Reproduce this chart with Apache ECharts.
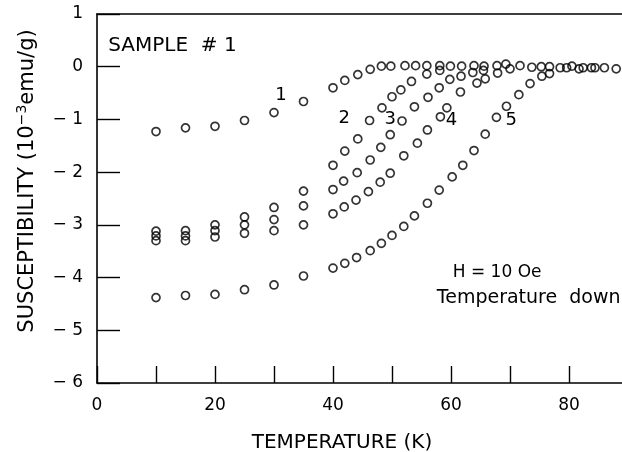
<!DOCTYPE html>
<html>
<head>
<meta charset="utf-8">
<script src="https://cdn.jsdelivr.net/npm/echarts@6.0.0/dist/echarts.min.js"></script>
<style>
html,body{margin:0;padding:0;background:#fff;}
#chart{width:622px;height:452px;}
</style>
</head>
<body>
<div id="chart"></div>
<script>
// Temperature (K) and susceptibility (10^-3 emu/g) for curves 1-5
var T1 = [10,15,20,25,30,35,40,42,44.2,46.3,48.2,49.8,52.2,54,55.9,58.1];
var X1 = [-1.23,-1.16,-1.13,-1.02,-0.87,-0.66,-0.40,-0.26,-0.15,-0.05,0.01,0.01,0.02,0.02,0.02,0.02];

var T2 = [10,15,20,25,30,35,40,42,44.2,46.2,48.3,50,51.5,53.3,55.9,58.1,59.9,61.8,63.9,65.6];
var X2 = [-3.12,-3.11,-3.00,-2.85,-2.67,-2.36,-1.87,-1.60,-1.37,-1.02,-0.78,-0.57,-0.44,-0.28,-0.14,-0.07,0.01,0.01,0.02,0.01];

var T3 = [10,15,20,25,30,35,40,41.8,44.1,46.3,48.1,49.7,51.7,53.8,56.1,58,59.8,61.7,63.7,65.5,67.8,69.3];
var X3 = [-3.21,-3.21,-3.11,-3.00,-2.90,-2.64,-2.33,-2.17,-2.01,-1.77,-1.53,-1.29,-1.03,-0.76,-0.58,-0.40,-0.24,-0.18,-0.11,-0.07,0.02,0.05];

var T4 = [10,15,20,25,30,35,40,41.9,43.9,46,48,49.7,52,54.3,56,58.2,59.3,61.6,64.4,65.8,67.9,70,71.7,73.7,75.3,76.7];
var X4 = [-3.30,-3.30,-3.23,-3.16,-3.11,-3.00,-2.79,-2.66,-2.53,-2.37,-2.19,-2.02,-1.69,-1.45,-1.20,-0.95,-0.78,-0.48,-0.31,-0.23,-0.12,-0.04,0.02,-0.01,0.0,0.0];

var T5 = [10,15,20,25,30,35,40,42,44,46.3,48.2,50,52,53.8,56,58,60.2,62,63.9,65.8,67.7,69.4,71.5,73.4,75.4,76.7,78.5,79.6,80.5,81.7,82.4,83.8,84.4,86,88];
var X5 = [-4.38,-4.34,-4.32,-4.23,-4.14,-3.97,-3.82,-3.73,-3.62,-3.49,-3.35,-3.20,-3.03,-2.83,-2.59,-2.34,-2.09,-1.87,-1.59,-1.28,-0.96,-0.75,-0.53,-0.32,-0.18,-0.13,-0.02,-0.02,0.01,-0.04,-0.02,-0.02,-0.02,-0.02,-0.04];

// curve labels: text, temperature, susceptibility
var curveLabels = ['1','2','3','4','5'];
var curveLabelT = [31.2,41.9,49.7,60.1,70.2];
var curveLabelX = [-0.55,-0.97,-0.99,-1.02,-1.02];

var xTickLabels = [0,20,40,60,80];

var FONT = '"DejaVu Sans", sans-serif';

function pairs(t, x){ return t.map(function(v,i){ return [v, x[i]]; }); }

var chart = echarts.init(document.getElementById('chart'), null, {renderer:'canvas'});

function mkSeries(name, t, x){
  return {
    name: name, type: 'scatter', xAxisIndex: 0, yAxisIndex: 0,
    data: pairs(t, x), symbol: 'circle', symbolSize: 8,
    itemStyle: {color: 'rgba(0,0,0,0)', borderColor: '#000', borderWidth: 1.7},
    emphasis: {disabled: true}, silent: true, z: 3
  };
}

var option = {
  animation: false,
  backgroundColor: '#fff',
  grid: {left: 97, width: 531, top: 14, bottom: 69, containLabel: false, outerBoundsMode: 'none'},
  xAxis: [{
    type: 'value', min: 0, max: 90, interval: 10, position: 'bottom',
    axisLine: {show: true, onZero: false, lineStyle: {color: '#000', width: 1.6}},
    axisTick: {show: true, inside: true, length: 17, lineStyle: {color: '#000', width: 1.4}},
    axisLabel: {
      margin: 14, color: '#000', fontSize: 17, fontFamily: FONT,
      formatter: function(v){ return xTickLabels.indexOf(v) >= 0 ? String(v) : ''; }
    },
    splitLine: {show: false}
  }, {
    type: 'value', min: 0, max: 90, position: 'top',
    axisLine: {show: true, onZero: false, lineStyle: {color: '#000', width: 1.6}},
    axisTick: {show: false}, axisLabel: {show: false}, splitLine: {show: false}
  }],
  yAxis: [{
    type: 'value', min: -6, max: 1, interval: 1,
    axisLine: {show: true, onZero: false, lineStyle: {color: '#000', width: 1.6}},
    axisTick: {show: true, inside: true, length: 23, lineStyle: {color: '#000', width: 1.4}},
    axisLabel: {
      margin: 14, color: '#000', fontSize: 17, fontFamily: FONT,
      formatter: function(v){ return v < 0 ? '\u2212 ' + Math.abs(v) : String(v); }
    },
    splitLine: {show: false}
  }],
  series: [
    mkSeries('1', T1, X1),
    mkSeries('2', T2, X2),
    mkSeries('3', T3, X3),
    mkSeries('4', T4, X4),
    mkSeries('5', T5, X5)
  ]
};
chart.setOption(option);

function px(t, x){ return chart.convertToPixel({xAxisIndex:0, yAxisIndex:0}, [t, x]); }

var graphics = [];
curveLabels.forEach(function(s, i){
  var p = px(curveLabelT[i], curveLabelX[i]);
  graphics.push({type:'text', x:p[0], y:p[1], silent:true,
    style:{text:s, fill:'#000', fontSize:18, fontFamily:FONT, align:'center', verticalAlign:'middle'}});
});
var ps = px(1.9, 0.40);
graphics.push({type:'text', x:ps[0], y:ps[1], silent:true,
  style:{text:'SAMPLE  # 1', fill:'#000', fontSize:20, fontFamily:FONT, align:'left', verticalAlign:'middle'}});
var ph = px(60.3, -3.90);
graphics.push({type:'text', x:ph[0], y:ph[1], silent:true,
  style:{text:'H = 10 Oe', fill:'#000', fontSize:17, fontFamily:FONT, align:'left', verticalAlign:'middle'}});
var pd = px(57.6, -4.38);
graphics.push({type:'text', x:pd[0], y:pd[1], silent:true,
  style:{text:'Temperature  down', fill:'#000', fontSize:19, fontFamily:FONT, align:'left', verticalAlign:'middle'}});
// axis titles
graphics.push({type:'text', x:342, y:443, silent:true,
  style:{text:'TEMPERATURE (K)', fill:'#000', fontSize:20, fontFamily:FONT, align:'center', verticalAlign:'middle'}});
graphics.push({type:'text', x:28, y:181, rotation: Math.PI/2, silent:true,
  style:{text:'{a|SUSCEPTIBILITY (10}{b|\u22123}{a|emu/g)}', align:'center', verticalAlign:'middle',
    rich:{
      a:{fontSize:21, fontFamily:FONT, fill:'#000', lineHeight:26},
      b:{fontSize:14, fontFamily:FONT, fill:'#000', lineHeight:14, verticalAlign:'top'}
    }}});
chart.setOption({graphic: graphics});
</script>
</body>
</html>
